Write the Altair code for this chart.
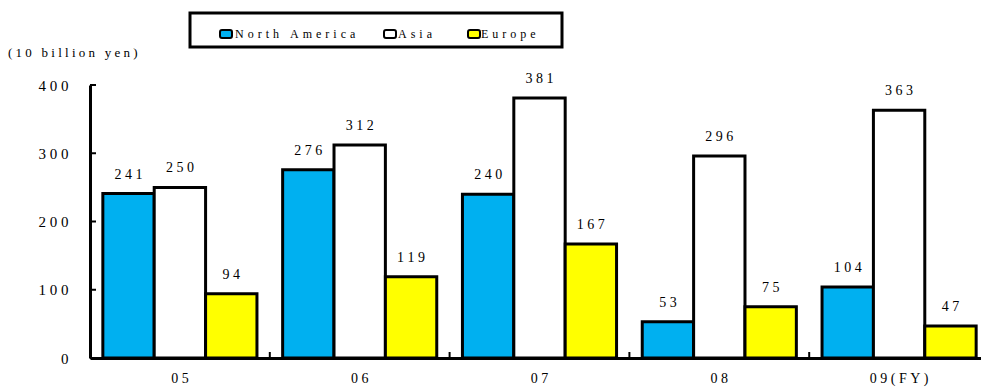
import altair as alt
import pandas as pd

# Overseas sales by region, fiscal years 05-09 (unit: 10 billion yen)
years = ["05", "06", "07", "08", "09(FY)"]
series = ["North America", "Asia", "Europe"]
north_america = [241, 276, 240, 53, 104]
asia = [250, 312, 381, 296, 363]
europe = [94, 119, 167, 75, 47]
colors = ["#00B0F0", "#FFFFFF", "#FFFF00"]
y_ticks = [0, 100, 200, 300, 400]

rows = []
for name, vals in zip(series, [north_america, asia, europe]):
    for yr, v in zip(years, vals):
        rows.append({"year": yr, "series": name, "value": v})
df = pd.DataFrame(rows)

FONT = "Liberation Serif, Times New Roman, DejaVu Serif, serif"
SP = "\u2009"   # thin space used to spread the characters out
SP4 = "\u2005"  # slightly wider spacing for captions and axis labels
W, H = 891, 273

x_scale = alt.Scale(domain=years, range=[0, 899], paddingInner=0, paddingOuter=0)
off_scale = alt.Scale(domain=series, paddingInner=0, paddingOuter=0.25)
y_scale = alt.Scale(domain=[0, 400], nice=False)

spaced = f"join(split(datum.label, ''), '{SP4}')"

x_axis = alt.Axis(
    labelAngle=0,
    ticks=False,
    grid=False,
    domainColor="black",
    domainWidth=3,
    labelFont=FONT,
    labelFontSize=14,
    labelColor="black",
    labelPadding=13,
    labelExpr=spaced,
)
y_axis = alt.Axis(
    values=y_ticks,
    ticks=False,
    grid=False,
    domainColor="black",
    domainWidth=3,
    labelFont=FONT,
    labelFontSize=15,
    labelColor="black",
    labelPadding=22,
    labelExpr=spaced,
)


def xpos(**kw):
    return alt.X("year:N", scale=x_scale, sort=years, title=None, axis=x_axis, **kw)


def ypos(field):
    return alt.Y(field, scale=y_scale, title=None, axis=y_axis)


bars = (
    alt.Chart(df)
    .mark_bar(stroke="black", strokeWidth=3)
    .encode(
        x=xpos(),
        xOffset=alt.XOffset("series:N", scale=off_scale, sort=series),
        y=ypos("value:Q"),
        fill=alt.Fill("series:N", scale=alt.Scale(domain=series, range=colors), legend=None),
    )
)

labels = (
    alt.Chart(df)
    .transform_calculate(lbl=f"join(split(toString(datum.value), ''), '{SP4}')")
    .mark_text(font=FONT, fontSize=14, color="black", baseline="alphabetic", dy=-15)
    .encode(
        x=xpos(),
        xOffset=alt.XOffset("series:N", scale=off_scale, sort=series),
        y=ypos("value:Q"),
        text="lbl:N",
    )
)

# inward tick marks on the value axis
ytick_df = pd.DataFrame({"value": y_ticks})
yticks = (
    alt.Chart(ytick_df)
    .mark_rule(color="black", strokeWidth=2)
    .encode(x=alt.value(0), x2=alt.value(6), y=ypos("value:Q"))
)

# small upward ticks at the boundaries between year groups
bound_df = pd.DataFrame({"year": years[1:]})
xticks = (
    alt.Chart(bound_df)
    .mark_rule(color="black", strokeWidth=2)
    .encode(x=xpos(bandPosition=0), y=alt.value(H), y2=alt.value(H - 6))
)

# unit caption
unit = (
    alt.Chart(pd.DataFrame({"t": ["(10 billion yen)"]}))
    .transform_calculate(lbl=f"join(split(datum.t, ''), '{SP4}')")
    .mark_text(font=FONT, fontSize=13, color="black", align="left", baseline="middle")
    .encode(x=alt.value(-82), y=alt.value(-32), text="lbl:N")
)

# legend box
legend_box = (
    alt.Chart(pd.DataFrame({"k": [0]}))
    .mark_rect(fill="white", stroke="black", strokeWidth=3)
    .encode(x=alt.value(100), x2=alt.value(472), y=alt.value(-72), y2=alt.value(-38))
)

legend_layers = [legend_box]
sym_x = [130, 294, 378]
txt_x = [145, 308, 391]
for name, col, sx, tx in zip(series, colors, sym_x, txt_x):
    item = pd.DataFrame({"t": [name]})
    legend_layers.append(
        alt.Chart(item)
        .mark_rect(fill=col, stroke="black", strokeWidth=2, cornerRadius=2)
        .encode(x=alt.value(sx), x2=alt.value(sx + 12), y=alt.value(-55), y2=alt.value(-47))
    )
    legend_layers.append(
        alt.Chart(item)
        .transform_calculate(lbl="join(split(datum.t, ''), '\u2004')")
        .mark_text(font=FONT, fontSize=12, color="black", align="left", baseline="middle")
        .encode(x=alt.value(tx), y=alt.value(-51), text="lbl:N")
    )

chart = (
    alt.layer(bars, labels, yticks, xticks, unit, *legend_layers)
    .properties(
        width=W,
        height=H,
        autosize=alt.AutoSizeParams(type="none"),
        padding={"left": 90, "top": 85, "right": 0, "bottom": 29},
        background="white",
    )
    .configure_view(stroke=None)
)

chart.save("out.html", embed_options={"renderer": "svg", "actions": False})
